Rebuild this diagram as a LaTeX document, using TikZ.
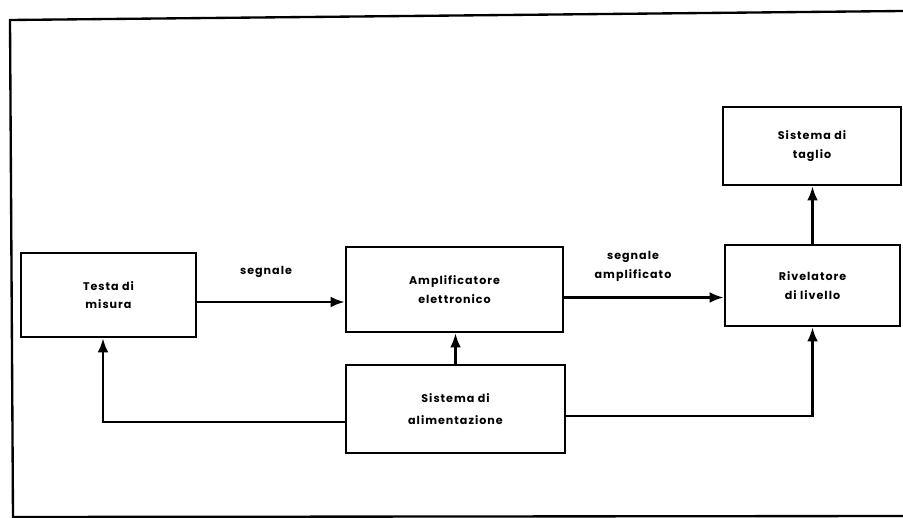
\documentclass[tikz,border=0pt]{standalone}
\usepackage{fontspec}
\setmainfont{Poppins}[LetterSpace=9]
\usetikzlibrary{arrows.meta,calc}

\tikzset{
    block/.style={
        draw,
        line width=2.3pt,
        align=center,
        font=\bfseries\fontsize{9.5}{16}\selectfont,
        inner sep=0pt,
        },
    feed/.style={
        draw,
        line width=1.9pt,
        -{Latex[length=4.2mm,width=3.2mm]},
        },
}

\begin{document}
\begin{tikzpicture}[x=0.3mm, y=-0.3mm]

% Keeps the size of the page
\useasboundingbox (0,0) rectangle (903,518);

% Draws the frame (open on the right)
\draw[
    line width=2pt,
    ]
    (903,11) -- (10,20) -- (13,517) -- (903,516);

% Blocks
\node[block, minimum width=52.5mm, minimum height=25.2mm] (testa) at (108.5,295) {Testa di\\misura};
\node[block, minimum width=65.1mm, minimum height=25.5mm] (ampli) at (454.5,289.5) {Amplificatore\\elettronico};
\node[block, minimum width=65.7mm, minimum height=26.4mm, font=\bfseries\fontsize{9.5}{19}\selectfont] (alim) at (455.5,409) {Sistema di\\alimentazione};
\node[block, minimum width=52.5mm, minimum height=24.3mm] (rivel) at (812.5,285.5) {Rivelatore\\di livello};
\node[block, minimum width=53.4mm, minimum height=23.4mm] (taglio) at (812,146) {Sistema di\\taglio};

% Start points of the signal lines
\coordinate (segA) at ($(testa.east)+(0,7)$);
\coordinate (segB) at ($(ampli.east)+(0,8)$);
\coordinate (alimL) at ($(alim.west)+(0,13)$);
\coordinate (alimR) at ($(alim.east)+(0,7)$);
\coordinate (testaIn) at ($(testa.south)+(-5.5,0)$);

% Signal path
\draw[feed] (segA) -- (segA -| ampli.west);
\draw[feed] (segB) -- (segB -| rivel.west);
\draw[feed] (rivel.north) -- (rivel.north |- taglio.south);

% Supply lines
\draw[feed] (alim.north) -- (alim.north |- ampli.south);
\draw[feed] (alimL) -| (testaIn);
\draw[feed] (alimR) -| (rivel.south);

% Labels
\node[font=\bfseries\fontsize{9.5}{16}\selectfont] (lblA) at (266,272) {segnale};
\node[font=\bfseries\fontsize{9.5}{16}\selectfont, align=center] (lblB) at (633,266.5) {segnale\\amplificato};

\end{tikzpicture}
\end{document}
